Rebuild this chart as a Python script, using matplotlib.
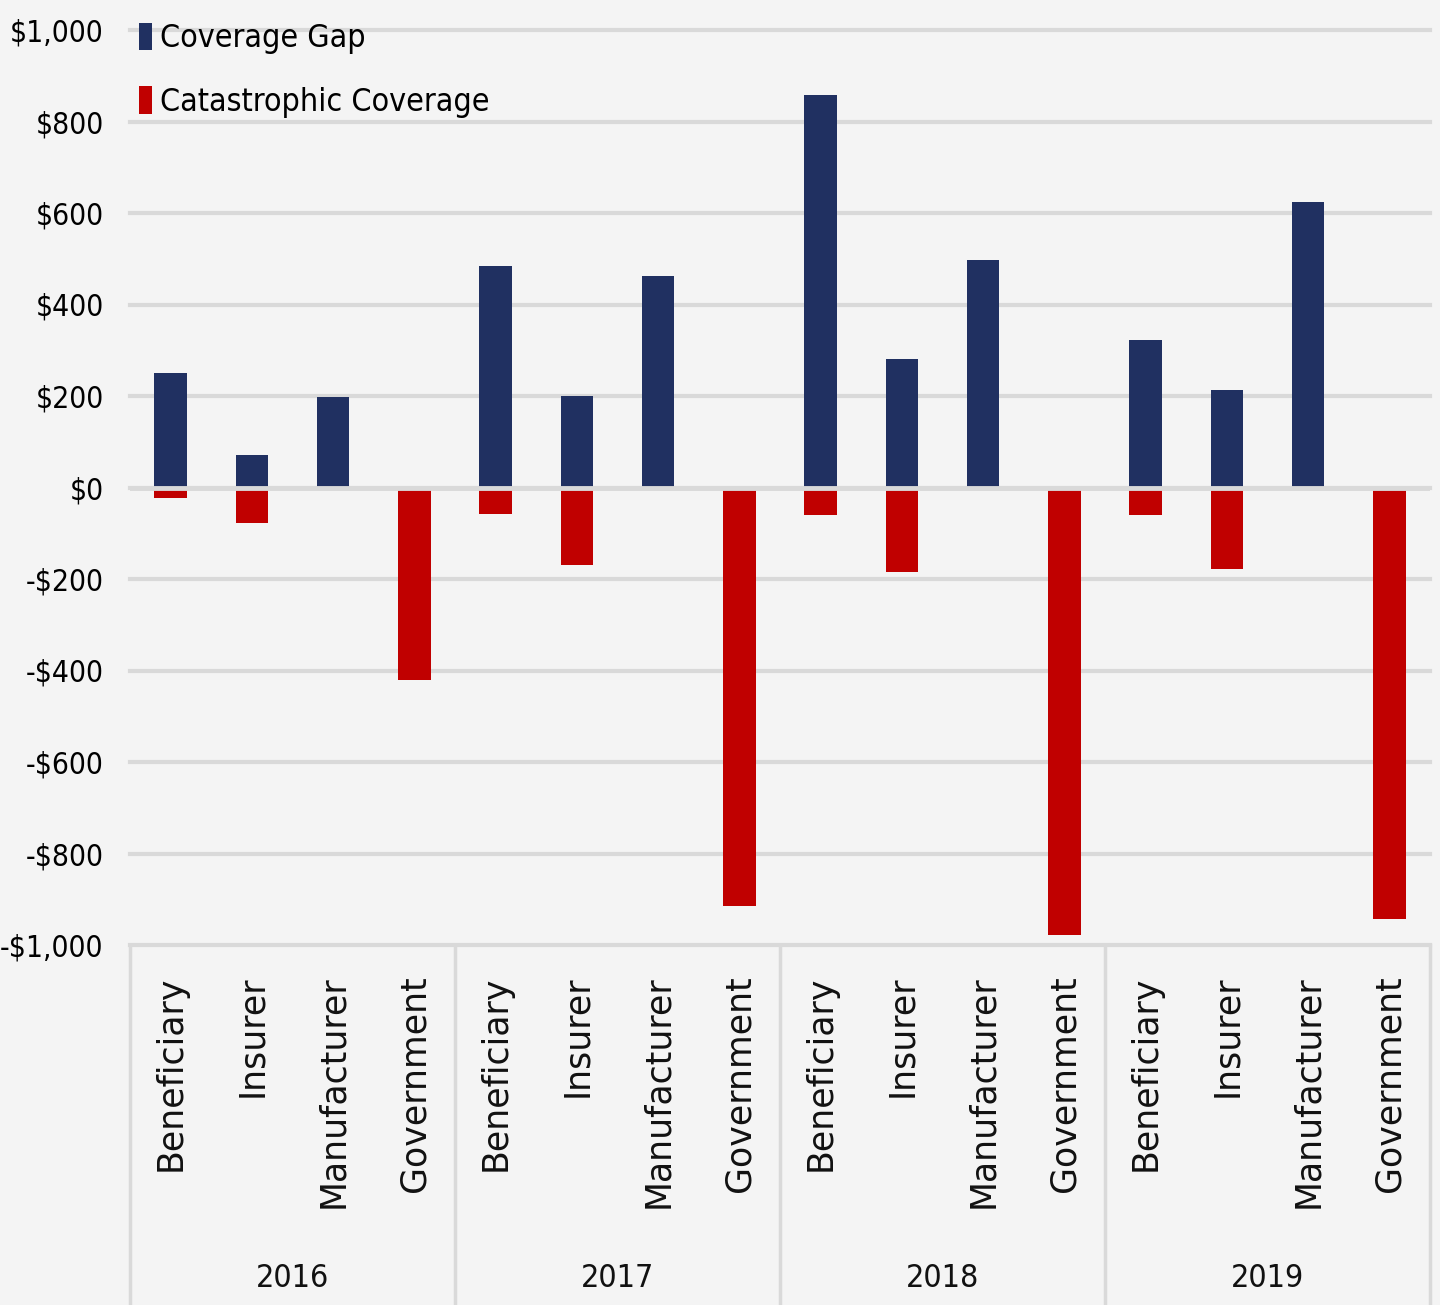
import matplotlib.pyplot as plt
from matplotlib import font_manager
import numpy as np

# values ($ per beneficiary)
years = ["2016", "2017", "2018", "2019"]
payers = ["Beneficiary", "Insurer", "Manufacturer", "Government"]
coverage_gap = [250, 70, 197, 0,
                485, 201, 463, 0,
                857, 280, 498, 0,
                323, 214, 625, 0]
catastrophic = [-24, -77, 0, -420,
                -57, -170, 0, -914,
                -61, -184, 0, -979,
                -61, -179, 0, -944]
y_ticks = [-1000, -800, -600, -400, -200, 0, 200, 400, 600, 800, 1000]

bg = "#f4f4f4"
navy = "#203061"
red = "#c00000"
grid_c = "#d9d9d9"


def narrow(size):
    return font_manager.FontProperties(family="DejaVu Sans", stretch="condensed", size=size)


fig = plt.figure(figsize=(14.4, 13.05), dpi=100, facecolor=bg)
ax = fig.add_axes([130 / 1440, 1 - 945 / 1305, 1300 / 1440, 915 / 1305])
ax.set_facecolor(bg)

x = np.arange(len(coverage_gap))
ax.bar(x, coverage_gap, width=0.4, color=navy, zorder=2, label="Coverage Gap")
ax.bar(x, catastrophic, width=0.4, color=red, zorder=2, label="Catastrophic Coverage")

ax.set_xlim(-0.5, len(x) - 0.5)
ax.set_ylim(-1000, 1000)

# gridlines (zero line sits over the bars, leaving a small gap)
for t in y_ticks:
    ax.axhline(t, color=grid_c, lw=3, zorder=1, clip_on=False)
ax.axhline(0, color=grid_c, lw=3.5, zorder=3)

for s in ax.spines.values():
    s.set_visible(False)
ax.set_xticks([])
ax.set_yticks(y_ticks)
ax.set_yticklabels([("-$" if t < 0 else "$") + f"{abs(t):,}" for t in y_ticks],
                   fontproperties=narrow(21.5))
ax.tick_params(axis="y", length=0, pad=19)

# two level category axis
trans = ax.get_xaxis_transform()
for i in x:
    ax.text(i, -0.033, payers[i % 4], transform=trans, rotation=90,
            ha="center", va="top", fontsize=25, family="DejaVu Sans", color="#111111")
for k, yr in enumerate(years):
    ax.text(4 * k + 1.5, -0.365, yr, transform=trans, ha="center", va="center",
            fontproperties=narrow(23), color="#111111")
for k in range(5):
    ax.plot([4 * k - 0.5, 4 * k - 0.5], [0, -0.4], transform=trans, color=grid_c,
            lw=2.5, clip_on=False, zorder=1)

leg = ax.legend(loc="upper left", bbox_to_anchor=(-0.003, 1.022), frameon=False,
                prop=narrow(23), handlelength=0.42, handleheight=0.95,
                handletextpad=0.25, labelspacing=1.0, borderaxespad=0)

fig.savefig("out.png", dpi=100, facecolor=bg)
